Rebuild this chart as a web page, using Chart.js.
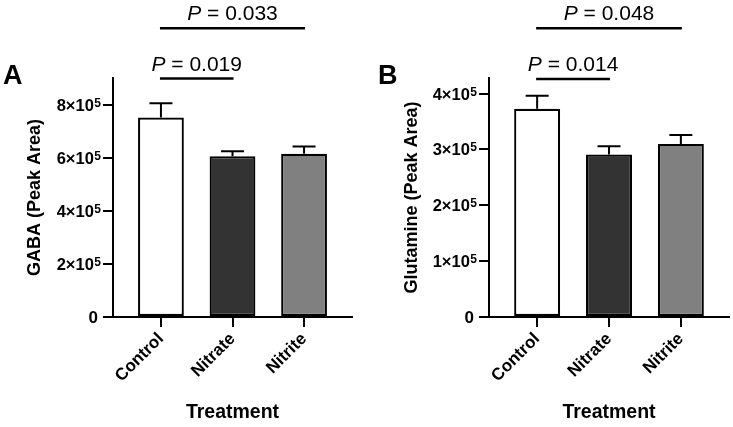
<!DOCTYPE html>
<html><head><meta charset="utf-8">
<script src="https://cdn.jsdelivr.net/npm/chart.js@4"></script>
<style>
html,body{margin:0;padding:0;background:#fff;}
#wrap{position:relative;width:733px;height:427px;overflow:hidden;}
.p{position:absolute;top:0;height:427px;}
canvas{display:block;}
</style></head><body>
<div id="wrap">
<div class="p" style="left:0;width:366px"><canvas id="cA" width="366" height="427"></canvas></div>
<div class="p" style="left:366px;width:367px"><canvas id="cB" width="367" height="427"></canvas></div>
</div>
<script>
const categories = ['Control', 'Nitrate', 'Nitrite'];
const gabaMeans = [7.51e5, 6.05e5, 6.15e5];
const gabaSEM = [0.54e5, 0.19e5, 0.27e5];
const glnMeans = [3.73e5, 2.91e5, 3.10e5];
const glnSEM = [0.23e5, 0.15e5, 0.16e5];
const gabaTicks = [0, 2e5, 4e5, 6e5, 8e5];
const glnTicks = [0, 1e5, 2e5, 3e5, 4e5];
const gabaSig = [{a: 0, b: 1, y: 8.98e5, p: '0.019'}, {a: 0, b: 2, y: 10.87e5, p: '0.033'}];
const glnSig = [{a: 0, b: 1, y: 4.26e5, p: '0.014'}, {a: 0, b: 2, y: 5.17e5, p: '0.048'}];
const barColors = ['#ffffff', '#333333', '#808080'];

const FONT = "'Liberation Sans', Arial, Helvetica, sans-serif";

function fmtBase(v) {
  if (v === 0) return '0';
  return (v / 1e5) + '×10';
}

const annotPlugin = {
  id: 'annot',
  afterDraw(chart, args, opts) {
    const ctx = chart.ctx;
    const xs = chart.scales.x, ys = chart.scales.y;
    ctx.save();
    ctx.strokeStyle = '#000';
    ctx.fillStyle = '#000';
    ctx.lineWidth = 2;
    ctx.lineCap = 'butt';
    // error bars
    opts.means.forEach((m, i) => {
      const x = xs.getPixelForValue(i);
      const y0 = ys.getPixelForValue(m);
      const y1 = ys.getPixelForValue(m + opts.sem[i]);
      ctx.beginPath();
      ctx.moveTo(x, y0); ctx.lineTo(x, y1);
      ctx.moveTo(x - 11.5, y1); ctx.lineTo(x + 11.5, y1);
      ctx.stroke();
    });
    // y tick labels with superscript exponent
    const axisX = ys.right;
    ys.ticks.forEach(t => {
      const y = ys.getPixelForValue(t.value);
      ctx.textBaseline = 'alphabetic';
      ctx.textAlign = 'right';
      if (t.value === 0) {
        ctx.font = 'bold 17px ' + FONT;
        ctx.fillText('0', axisX - 15, y + 6);
      } else {
        ctx.font = 'bold 12px ' + FONT;
        const sw = ctx.measureText('5').width;
        ctx.fillText('5', axisX - 12, y + 2);
        ctx.font = 'bold 16.5px ' + FONT;
        ctx.fillText(fmtBase(t.value), axisX - 12 - sw - 0.5, y + 6);
      }
    });
    // significance brackets
    ctx.lineWidth = 2.5;
    opts.sig.forEach(s => {
      const xa = xs.getPixelForValue(s.a) - 1;
      const xb = xs.getPixelForValue(s.b) + 1;
      const y = ys.getPixelForValue(s.y);
      ctx.beginPath();
      ctx.moveTo(xa, y); ctx.lineTo(xb, y);
      ctx.stroke();
      const italic = 'italic 21px ' + FONT;
      const normal = '21px ' + FONT;
      ctx.font = italic;
      const w1 = ctx.measureText('P').width;
      ctx.font = normal;
      const rest = ' = ' + s.p;
      const w2 = ctx.measureText(rest).width;
      const cx = (xa + xb) / 2;
      const start = cx - (w1 + w2) / 2;
      ctx.textBaseline = 'alphabetic';
      ctx.textAlign = 'left';
      ctx.font = italic;
      ctx.fillText('P', start, y - 8);
      ctx.font = normal;
      ctx.fillText(rest, start + w1, y - 8);
    });
    // panel letter
    ctx.font = 'bold 27px ' + FONT;
    ctx.textAlign = 'left';
    ctx.fillText(opts.letter, opts.letterX, 84);
    ctx.restore();
  }
};

function makeChart(id, means, sem, ticks, ymax, sig, title, letter, letterX, padLeft, yWidth, padRight) {
  return new Chart(document.getElementById(id), {
    type: 'bar',
    data: {
      datasets: [{
        data: means.map((m, i) => ({x: i, y: m})),
        backgroundColor: barColors,
        borderColor: '#000',
        borderWidth: 2.2,
        borderSkipped: false,
        barPercentage: 0.64,
        categoryPercentage: 1
      }]
    },
    options: {
      responsive: false,
      devicePixelRatio: 1,
      animation: false,
      layout: {padding: {left: padLeft, right: padRight, top: 78, bottom: 0}},
      plugins: {
        legend: {display: false},
        tooltip: {enabled: false},
        annot: {means: means, sem: sem, sig: sig, letter: letter, letterX: letterX}
      },
      scales: {
        x: {
          type: 'linear',
          offset: false,
          min: -0.67,
          max: 2.67,
          afterBuildTicks: s => { s.ticks = [0, 1, 2].map(v => ({value: v})); },
          afterFit: s => { s.height = 110; },
          grid: {display: true, offset: false, drawOnChartArea: false, drawTicks: true, tickLength: 10, lineWidth: 2, color: '#000'},
          border: {display: true, color: '#000', width: 2},
          ticks: {
            callback: v => categories[v],
            minRotation: 45, maxRotation: 45,
            color: '#000',
            padding: 2,
            font: {family: FONT, size: 17, weight: 'bold'}
          },
          title: {
            display: true, text: 'Treatment', color: '#000',
            padding: {top: 0, bottom: 3},
            font: {family: FONT, size: 19.5, weight: 'bold'}
          }
        },
        y: {
          min: 0,
          max: ymax,
          afterBuildTicks: s => { s.ticks = ticks.map(v => ({value: v})); },
          afterFit: s => { s.width = yWidth; },
          grid: {display: true, drawOnChartArea: false, drawTicks: true, tickLength: 10, lineWidth: 2, color: '#000'},
          border: {display: true, color: '#000', width: 2},
          ticks: {
            callback: v => fmtBase(v),
            color: 'rgba(0,0,0,0)',
            padding: 2,
            font: {family: FONT, size: 15, weight: 'bold'}
          },
          title: {
            display: true, text: title, color: '#000',
            padding: {top: 4, bottom: 0},
            font: {family: FONT, size: 18, weight: 'bold'}
          }
        }
      }
    },
    plugins: [annotPlugin]
  });
}

makeChart('cA', gabaMeans, gabaSEM, gabaTicks, 9e5, gabaSig, 'GABA (Peak Area)', 'A', 3, 20, 93, 14);
makeChart('cB', glnMeans, glnSEM, glnTicks, 4.28e5, glnSig, 'Glutamine (Peak Area)', 'B', 12, 31, 92, 4);
</script>
</body></html>
